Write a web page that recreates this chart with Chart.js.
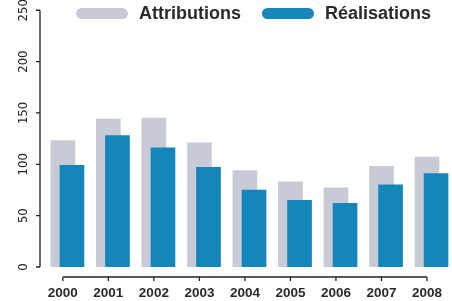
<!DOCTYPE html>
<html>
<head>
<meta charset="utf-8">
<script src="https://cdn.jsdelivr.net/npm/chart.js@4.4.0/dist/chart.umd.min.js"></script>
<style>
  html, body { margin: 0; padding: 0; background: #fff; }
  #cadre { width: 452px; height: 301px; }
</style>
</head>
<body>
<div id="cadre"><canvas id="graf"></canvas></div>
<script>
const annees = [2000, 2001, 2002, 2003, 2004, 2005, 2006, 2007, 2008];
const attributions = [123, 144, 145, 121, 94, 83, 77, 98, 107];
const realisations = [99, 128, 116, 97, 75, 65, 62, 80, 91];
const ticksY = [0, 50, 100, 150, 200, 250];

const decalage = 0.2; // les barres bleues sont decalees vers la droite
const gris = '#c8cbd5';
const bleu = '#1486bc';

// pastille arrondie de la legende
function pastille(ctx, x, y, w, h) {
  const r = h / 2;
  ctx.beginPath();
  ctx.moveTo(x + r, y);
  ctx.lineTo(x + w - r, y);
  ctx.arc(x + w - r, y + r, r, -Math.PI / 2, Math.PI / 2);
  ctx.lineTo(x + r, y + h);
  ctx.arc(x + r, y + r, r, Math.PI / 2, Math.PI * 1.5);
  ctx.closePath();
  ctx.fill();
}

// axes dessines facon R (lignes qui ne couvrent que les ticks) + legende
const axesR = {
  id: 'axesR',
  afterDraw(chart) {
    const ctx = chart.ctx;
    const sx = chart.scales.x, sy = chart.scales.y;
    const a = chart.chartArea;
    ctx.save();
    ctx.strokeStyle = '#222';
    ctx.lineWidth = 1.3;

    // axe y
    const xa = a.left - 1;
    ctx.beginPath();
    ctx.moveTo(xa, sy.getPixelForValue(ticksY[0]));
    ctx.lineTo(xa, sy.getPixelForValue(ticksY[ticksY.length - 1]));
    ticksY.forEach(v => {
      const py = sy.getPixelForValue(v);
      ctx.moveTo(xa, py);
      ctx.lineTo(xa - 4, py);
    });
    ctx.stroke();

    ctx.fillStyle = '#222';
    ctx.font = '13px "Liberation Sans Narrow", "DejaVu Sans Condensed", sans-serif';
    ctx.textAlign = 'center';
    ctx.textBaseline = 'middle';
    ticksY.forEach(v => {
      const py = sy.getPixelForValue(v);
      ctx.save();
      ctx.translate(24, py);
      ctx.rotate(-Math.PI / 2);
      ctx.fillText(String(v), 0, 0);
      ctx.restore();
    });

    // axe x
    const ya = a.bottom + 10;
    ctx.beginPath();
    ctx.moveTo(sx.getPixelForValue(annees[0]), ya);
    ctx.lineTo(sx.getPixelForValue(annees[annees.length - 1]), ya);
    annees.forEach(v => {
      const px = sx.getPixelForValue(v);
      ctx.moveTo(px, ya);
      ctx.lineTo(px, ya + 4);
    });
    ctx.stroke();

    // legende
    ctx.font = 'bold 18px "Liberation Sans", Arial, sans-serif';
    ctx.textAlign = 'left';
    let lx = 76;
    chart.data.datasets.forEach(ds => {
      ctx.fillStyle = ds.backgroundColor;
      pastille(ctx, lx, 8, 52, 11);
      lx += 52 + 11;
      ctx.fillStyle = '#2a2a2a';
      ctx.fillText(ds.label, lx, 14.5);
      lx += ctx.measureText(ds.label).width + 21;
    });
    ctx.restore();
  }
};

new Chart(document.getElementById('graf'), {
  type: 'bar',
  data: {
    datasets: [{
      label: 'Attributions',
      data: annees.map((a, i) => ({ x: a, y: attributions[i] })),
      backgroundColor: gris,
      barThickness: 24,
      order: 1
    }, {
      label: 'Réalisations',
      data: annees.map((a, i) => ({ x: a + decalage, y: realisations[i] })),
      backgroundColor: bleu,
      barThickness: 24,
      order: 0
    }]
  },
  options: {
    responsive: true,
    maintainAspectRatio: false,
    animation: false,
    grouped: false,
    layout: { padding: { top: 0, right: 0, bottom: 0, left: 0 } },
    scales: {
      x: {
        type: 'linear',
        offset: false,
        min: 1999.52,
        max: 2008.48,
        grid: { display: false },
        border: { display: false },
        afterFit: s => { s.height = 34; },
        afterBuildTicks: s => { s.ticks = annees.map(v => ({ value: v })); },
        ticks: {
          padding: 10,
          color: '#2a2a2a',
          font: { family: '"Liberation Sans", Arial, sans-serif', size: 13.5, weight: 'bold' },
          callback: v => String(v)
        }
      },
      y: {
        min: 0,
        max: 260,
        grid: { display: false },
        border: { display: false },
        ticks: { display: false },
        afterFit: s => { s.width = 41; }
      }
    },
    plugins: {
      tooltip: { enabled: false },
      legend: { display: false }
    }
  },
  plugins: [axesR]
});
</script>
</body>
</html>
